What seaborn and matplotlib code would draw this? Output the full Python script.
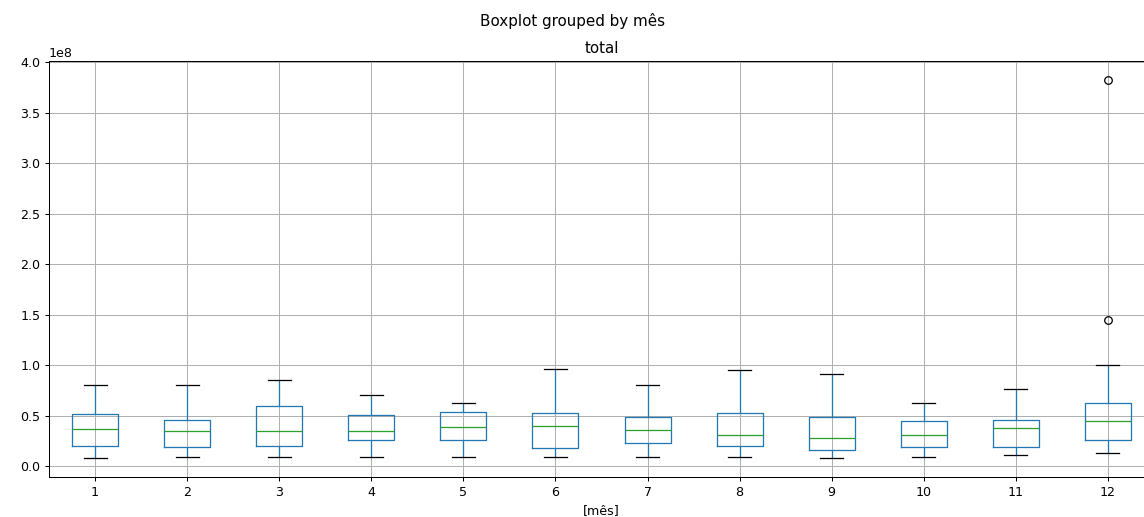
import matplotlib
matplotlib.use("Agg")
import matplotlib.pyplot as plt
import seaborn as sns
import pandas as pd

# Month categories
months = ["1", "2", "3", "4", "5", "6", "7", "8", "9", "10", "11", "12"]

# Values per month (in units of 1e8):
# [lower whisker, Q1, median, Q3, upper whisker] (+ outliers for December)
m1 = [0.086, 0.20, 0.375, 0.52, 0.81]
m2 = [0.092, 0.19, 0.35, 0.464, 0.81]
m3 = [0.092, 0.207, 0.35, 0.595, 0.86]
m4 = [0.092, 0.26, 0.35, 0.514, 0.704]
m5 = [0.095, 0.263, 0.39, 0.543, 0.63]
m6 = [0.095, 0.184, 0.405, 0.527, 0.968]
m7 = [0.095, 0.237, 0.362, 0.487, 0.81]
m8 = [0.095, 0.20, 0.31, 0.527, 0.96]
m9 = [0.086, 0.165, 0.286, 0.487, 0.92]
m10 = [0.092, 0.188, 0.316, 0.45, 0.63]
m11 = [0.109, 0.188, 0.378, 0.464, 0.767]
m12 = [0.135, 0.18, 0.22, 0.263, 0.30, 0.38, 0.447, 0.50, 0.57, 0.63,
       1.007, 1.452, 3.83]

month_values = [m1, m2, m3, m4, m5, m6, m7, m8, m9, m10, m11, m12]
SCALE = 1e8

rows = []
for m, vals in zip(months, month_values):
    for v in vals:
        rows.append({"mês": m, "total": v * SCALE})
df = pd.DataFrame(rows)

fig = plt.figure(figsize=(1144 / 91, 517 / 91), dpi=91)
ax = fig.add_axes([49 / 1144, 1 - 476.7 / 517, (1154 - 49) / 1144, (476.7 - 60.7) / 517])

sns.boxplot(
    data=df, x="mês", y="total", order=months, ax=ax,
    width=0.5, fill=False, color="#1f77b4", linewidth=1.0,
    whis=1.5,
    medianprops={"color": "#2ca02c", "linewidth": 1.0},
    capprops={"color": "black", "linewidth": 1.0},
    whiskerprops={"color": "#1f77b4", "linewidth": 1.0},
    boxprops={"color": "#1f77b4", "linewidth": 1.0},
    flierprops={"marker": "o", "markeredgecolor": "black",
                "markerfacecolor": "none", "markersize": 6},
)

ax.grid(True, color="#b0b0b0", linewidth=0.8)
ax.set_axisbelow(True)
ax.set_xlabel("[mês]")
ax.set_ylabel("")
ax.set_title("total")
for s in ax.spines.values():
    s.set_visible(True)
    s.set_color("black")
    s.set_linewidth(0.8)

fig.suptitle("Boxplot grouped by mês", y=0.975, va="top", fontsize=12)

fig.savefig("out.png", dpi=91)
